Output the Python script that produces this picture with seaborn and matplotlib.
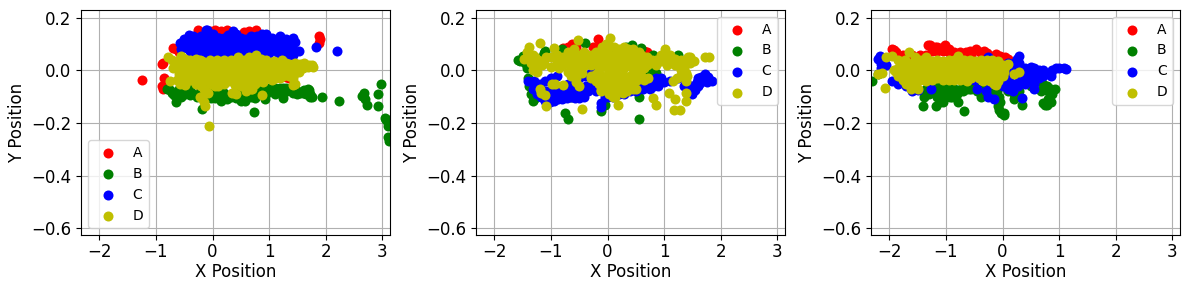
import matplotlib
matplotlib.use("Agg")
import matplotlib.pyplot as plt
import seaborn as sns
import pandas as pd

labels = ["A", "B", "C", "D"]
colors = ["r", "g", "b", "y"]

p1_a_x = [-1.25,-0.9,-0.88,-0.85,-0.9,-0.87,-0.7,-0.65,-0.6,-0.45,-0.35,-0.25,-0.2,-0.05,0.05,0.15,0.25,0.4,0.55,0.65,0.77,0.9,1.88,1.9,1.88,1.3,1.35,-0.15,-0.2,-0.3,-0.55]
p1_a_y = [-0.035,0.025,0.03,-0.03,-0.06,-0.07,0.085,0.08,0.07,0.04,0.07,0.155,0.14,0.15,0.155,0.15,0.155,0.14,0.145,0.15,0.155,0.13,0.13,0.12,0.105,-0.025,-0.03,-0.06,-0.07,0.06,0.03]
p1_b_x = [-0.8,-0.72,-0.68,-0.65,-0.6,-0.52,-0.45,-0.35,-0.28,-0.18,-0.1,-0.02,0.08,0.15,0.25,0.32,0.42,0.5,0.58,0.68,0.75,0.85,0.92,1.0,1.1,1.2,1.25,1.32,1.42,1.5,1.6,1.68,1.72,1.75,1.93,2.23,2.65,2.68,2.7,2.73,2.92,2.92,2.98,3.05,3.07,3.1,3.1,3.12,3.13,0.74,-0.18,0.9,1.25,0.45,-0.6,-0.4,-0.2,0.0,0.2,0.4,0.6,0.8,1.0,1.2,1.4,1.6]
p1_b_y = [-0.07,-0.085,-0.095,-0.12,-0.08,-0.095,-0.085,-0.09,-0.1,-0.1,-0.095,-0.105,-0.09,-0.115,-0.11,-0.1,-0.105,-0.115,-0.115,-0.1,-0.105,-0.09,-0.11,-0.08,-0.09,-0.085,-0.105,-0.08,-0.085,-0.09,-0.08,-0.07,-0.09,-0.1,-0.1,-0.118,-0.098,-0.085,-0.11,-0.13,-0.088,-0.135,-0.05,-0.18,-0.19,-0.21,-0.255,-0.27,-0.19,-0.158,-0.145,-0.07,-0.065,-0.08,-0.07,-0.07,-0.075,-0.08,-0.085,-0.085,-0.09,-0.075,-0.065,-0.065,-0.07,-0.085]
p1_b_more = [(-0.75,-0.075),(-0.55,-0.1),(-0.4,-0.095),(-0.22,-0.085),(-0.05,-0.09),(0.05,-0.105),(0.2,-0.095),(0.35,-0.09),(0.55,-0.1),(0.65,-0.085),(0.82,-0.075),(0.95,-0.09),(1.05,-0.075),(1.15,-0.08),(1.3,-0.065),(1.38,-0.075),(1.45,-0.065),(1.55,-0.085),(1.65,-0.09),(1.7,-0.075),(1.62,-0.075),(1.72,-0.1),(1.1,-0.065)]
p1_c_x = [-0.58,-0.5,-0.42,-0.35,-0.28,-0.2,-0.12,-0.04,0.05,0.12,0.2,0.28,0.36,0.42,0.5,0.6,0.68,0.78,0.88,0.95,1.05,1.2,1.3,1.42,1.45,1.53,1.82,2.2,-0.55,-0.45,-0.35,-0.25,-0.15,-0.05,0.05,0.15,0.25,0.35,0.45,0.55,0.65,0.75,0.85,0.95,1.05,1.15,1.25,1.35,-0.35,-0.2,-0.02,0.1,0.22,0.4,0.55,0.7,0.85,1.0,1.15,1.3,-0.1,0.0,0.38,-0.08,0.1,0.3,0.5,0.7,0.9,1.1,1.25]
p1_c_y = [0.105,0.12,0.135,0.13,0.125,0.13,0.155,0.14,0.11,0.125,0.125,0.135,0.15,0.14,0.125,0.12,0.13,0.13,0.14,0.14,0.125,0.13,0.12,0.125,0.11,0.075,0.09,0.075,0.08,0.085,0.085,0.09,0.075,0.09,0.095,0.09,0.09,0.1,0.095,0.1,0.09,0.1,0.095,0.1,0.09,0.1,0.095,0.08,0.06,0.06,0.06,0.06,0.07,0.07,0.07,0.07,0.065,0.065,0.065,0.05,0.155,0.14,0.12,0.12,0.11,0.115,0.11,0.115,0.115,0.115,0.11]
p1_c_more = [(-0.5,0.1),(-0.4,0.11),(-0.3,0.105),(-0.2,0.105),(-0.1,0.1),(0.0,0.105),(0.1,0.125),(0.2,0.105),(0.3,0.09),(0.42,0.11),(0.6,0.1),(0.8,0.11),(1.0,0.105),(1.2,0.105),(1.38,0.1),(1.4,0.085),(-0.4,0.075),(-0.15,0.06),(0.05,0.075),(0.3,0.065),(0.48,0.075),(0.62,0.07),(0.78,0.075),(0.95,0.08),(1.1,0.08),(1.25,0.07),(1.42,0.06),(-0.08,0.08)]
p1_d_x = [-0.78,-0.72,-0.65,-0.6,-0.55,-0.48,-0.4,-0.3,-0.22,-0.12,-0.02,0.08,0.18,0.28,0.38,0.45,0.55,0.65,0.77,0.88,1.0,1.1,1.22,1.35,1.45,1.55,1.62,1.7,1.75,1.78,-0.7,-0.6,-0.5,-0.4,-0.3,-0.2,-0.1,0.0,0.1,0.2,0.3,0.4,0.5,0.6,0.7,0.8,0.9,1.0,1.1,1.2,1.3,1.4,1.5,1.6,-0.6,-0.5,-0.4,-0.3,-0.2,-0.1,0.05,0.15,0.25,0.35,0.45,0.55,0.65,0.75,0.85,0.95,1.05,1.15,1.25,-0.75,-0.62,-0.48,-0.3,-0.15,-0.02,0.1,0.3,0.4,0.53,0.6,0.75,0.9,1.05,1.42,-0.22,-0.18,-0.15,-0.14,-0.13,-0.08,0.1,0.35,0.6,0.68,0.88,-0.07]
p1_d_y = [0.05,0.04,0.03,0.03,0.055,0.045,0.03,0.03,0.04,0.03,0.025,0.03,0.035,0.03,0.03,0.05,0.04,0.05,0.06,0.035,0.03,0.025,0.04,0.025,0.03,0.025,0.03,0.02,0.02,0.015,0.01,0.015,0.01,0.005,0.01,0.0,0.01,0.005,0.01,0.005,0.01,0.01,0.01,0.01,0.015,0.015,0.015,0.01,0.01,0.015,0.015,0.015,0.01,0.01,-0.015,-0.02,-0.02,-0.015,-0.02,-0.02,-0.02,-0.015,-0.02,-0.015,-0.02,-0.02,-0.015,-0.015,-0.02,-0.02,-0.02,-0.015,-0.02,-0.04,-0.035,-0.055,-0.05,-0.04,-0.05,-0.05,-0.04,-0.055,-0.05,-0.06,-0.05,-0.045,-0.035,-0.055,-0.1,-0.105,-0.12,-0.135,-0.08,-0.085,-0.06,-0.085,-0.08,-0.07,-0.095,-0.212]
p1_d_more = [(-0.6,0.04),(-0.5,0.035),(-0.4,0.04),(-0.3,0.045),(-0.18,0.035),(-0.05,0.04),(0.08,0.04),(0.2,0.04),(0.32,0.04),(0.42,0.04),(0.6,0.04),(0.72,0.045),(0.85,0.045),(0.95,0.04),(1.08,0.035),(1.18,0.03),(1.3,0.03),
(-0.65,0.012),(-0.55,0.0),(-0.45,0.01),(-0.35,0.015),(-0.25,0.015),(-0.15,0.012),(-0.05,0.01),(0.05,0.012),(0.15,0.015),(0.25,0.012),(0.35,0.012),(0.45,0.015),(0.55,0.02),(0.65,0.02),(0.75,0.02),(0.85,0.02),(0.95,0.02),(1.05,0.018),(1.15,0.02),(1.25,0.015),(1.35,0.012),(1.45,0.018),(1.55,0.015),(1.68,0.015),
(-0.58,-0.012),(-0.45,-0.005),(-0.35,-0.005),(-0.25,-0.005),(-0.15,-0.005),(-0.05,-0.005),(0.05,-0.005),(0.15,-0.005),(0.25,-0.005),(0.35,-0.005),(0.45,-0.005),(0.55,-0.005),(0.65,-0.005),(0.75,-0.005),(0.85,-0.005),(0.95,-0.005),(1.05,-0.005),(1.15,-0.005),(1.25,-0.005),(1.35,-0.005),(1.45,-0.01),(1.52,-0.005),
(-0.55,-0.035),(-0.45,-0.04),(-0.38,-0.035),(-0.25,-0.035),(-0.12,-0.03),(0.0,-0.035),(0.12,-0.035),(0.22,-0.035),(0.32,-0.03),(0.45,-0.035),(0.58,-0.035),(0.68,-0.035),(0.82,-0.035),(0.95,-0.03),(1.12,-0.03),(1.2,-0.03),(1.35,-0.02),(1.45,-0.05),(1.42,-0.03),
(-0.58,-0.05),(-0.2,-0.06),(0.2,-0.05),(0.5,-0.06),(0.7,-0.07),(0.05,-0.06),(-0.15,-0.07),(0.78,-0.045),(0.42,-0.09)]

p2_a_x = [-0.17,-0.15,-0.78,-0.7,-0.62,-0.55,0.7,0.65,0.3,-0.25,-0.05]
p2_a_y = [0.118,0.09,0.085,0.09,0.1,0.09,0.07,0.075,0.08,0.09,0.09]
p2_b_x = [-1.58,-1.55,-1.5,-1.45,-1.42,-1.4,-1.38,-1.35,-1.32,-1.3,-1.1,-1.12,-0.95,-0.8,-0.4,0.33,0.43,0.6,-0.75,-0.7,0.56,-0.12,0.55,-0.05,0.8,1.25,-1.15,-0.5,0.15,0.7,0.85,0.78,-0.65]
p2_b_y = [0.04,0.035,0.055,0.03,0.01,-0.03,-0.06,-0.09,-0.115,-0.11,0.075,0.065,0.05,0.08,0.105,0.09,0.095,0.085,-0.16,-0.185,-0.185,-0.155,-0.1,-0.13,0.06,0.06,0.05,0.0,0.08,0.0,-0.01,-0.005,-0.1]
p2_c_x = [-1.4,-1.32,-1.25,-1.18,-1.1,-1.02,-0.95,-0.88,-0.8,-0.72,-0.65,-0.58,-0.5,-0.42,-0.35,-0.28,-0.2,-0.12,-0.05,0.0,0.1,0.2,0.3,0.4,0.5,0.62,0.75,0.82,0.9,1.0,1.1,1.85,1.78,1.75,1.7,1.65,1.6,1.55,1.5,-1.2,-1.1,-1.0,-0.9,-0.8,-0.7,-0.6,-0.5,-0.4,-0.3,-0.2,-0.12,-0.3,-0.2,0.15,0.65,0.88,1.25,1.35,1.45,1.55,1.62,1.68,-1.05,-0.85,-0.65,-0.45,-0.25]
p2_c_y = [-0.04,-0.07,-0.09,-0.1,-0.115,-0.12,-0.115,-0.11,-0.11,-0.105,-0.1,-0.105,-0.105,-0.1,-0.08,-0.06,-0.08,-0.14,-0.1,-0.1,-0.1,-0.09,-0.09,-0.08,-0.08,-0.07,-0.07,-0.06,-0.06,-0.045,-0.04,-0.04,-0.025,-0.045,-0.03,-0.04,-0.06,-0.075,-0.09,-0.05,-0.04,-0.03,-0.02,-0.06,-0.05,-0.04,-0.03,-0.02,-0.01,0.01,-0.125,-0.03,-0.02,-0.04,-0.05,-0.05,-0.03,-0.06,-0.06,-0.06,-0.05,-0.04,-0.08,-0.08,-0.07,-0.07,-0.05]
p2_c_more = [(-1.3,-0.04),(-1.2,-0.07),(-1.1,-0.08),(-1.0,-0.09),(-0.9,-0.08),(-0.75,-0.08),(-0.55,-0.08),(-0.38,-0.06),(-0.1,-0.07),(0.0,-0.07),(0.1,-0.07),(0.55,-0.06),(0.7,-0.05),(0.78,-0.04),(0.85,-0.03),(0.95,-0.03),(1.5,-0.06),(1.58,-0.045),(1.65,-0.025),(1.72,-0.015),(1.6,-0.03)]
p2_d_x = [-1.48,-1.42,-1.38,-1.32,-1.28,-1.22,-1.18,-1.2,-1.12,-0.95,-0.9,-0.82,-0.7,-0.6,-0.52,-0.45,-0.4,-0.3,-0.2,-0.1,-0.02,0.05,0.05,0.12,0.2,0.28,0.36,0.45,0.55,0.65,0.78,0.95,1.02,1.1,1.2,1.3,1.42,1.45,1.52,1.72,1.8,-1.25,-1.15,-1.0,-0.85,-0.7,-0.55,-0.4,-0.25,-0.1,0.0,0.12,0.25,0.4,0.55,0.7,0.85,1.05,1.2,1.35,-0.65,-0.55,-0.3,-0.2,-0.1,0.0,0.1,0.2,0.3,0.4,0.5,0.6,-0.15,-0.05,0.05,0.15,0.25,0.35,0.45,-1.2,-1.18,-1.1,-1.08,-0.98,-0.92,-0.78,-0.5,-0.45,0.18,0.13,0.8,0.86,1.08,1.17,1.2,1.28,1.38,1.38,1.4,1.3,1.15,0.65,-0.3,0.0,0.1,0.35,0.45,-0.9,-0.75,-0.6,-0.45,-0.3,-0.15,0.0,0.15,0.3,0.45,0.6,0.75,0.9,1.1,1.3,-0.85,-0.6,-1.35,-1.3,-0.15,0.0,0.15,0.3,0.45,0.6,-0.12,0.05,0.2,0.35,0.5]
p2_d_y = [0.045,0.07,0.09,0.06,0.05,0.04,0.03,0.105,0.03,0.085,0.06,0.04,0.05,0.08,0.115,0.06,0.04,0.06,0.07,0.09,0.1,0.125,0.09,0.09,0.08,0.07,0.08,0.06,0.07,0.05,0.04,0.06,0.08,0.06,0.045,0.04,0.05,0.05,0.035,0.05,0.052,-0.005,0.02,0.015,0.01,-0.005,-0.01,0.02,0.03,0.04,0.04,0.04,0.04,0.03,0.03,0.02,0.02,0.02,0.02,0.01,-0.02,-0.03,-0.02,-0.015,-0.02,-0.02,-0.015,-0.02,-0.02,-0.02,-0.02,-0.02,-0.05,-0.05,-0.05,-0.05,-0.05,-0.05,-0.05,-0.07,-0.085,-0.095,-0.135,-0.05,-0.05,-0.055,-0.06,-0.145,-0.13,-0.1,-0.105,-0.13,-0.085,-0.15,-0.11,-0.15,-0.085,-0.115,-0.02,-0.02,-0.04,-0.035,-0.03,-0.08,-0.1,-0.08,-0.07,0.035,0.03,0.035,0.05,0.045,0.06,0.065,0.06,0.05,0.05,0.03,0.03,0.04,0.04,0.03,0.015,0.01,0.03,0.02,0.005,0.005,0.005,0.01,0.005,0.0,-0.075,-0.07,-0.075,-0.075,-0.07]
p2_d_more = [(-1.4,0.06),(-1.32,0.03),(-1.25,0.025),(-1.08,0.05),(-1.0,0.05),(-0.88,0.045),(-0.78,0.05),(-0.7,0.07),(-0.6,0.05),(-0.5,0.06),(-0.42,0.07),(-0.3,0.04),(-0.2,0.05),(-0.15,0.06),(-0.05,0.06),(0.12,0.06),(0.22,0.05),(0.3,0.05),(0.42,0.06),(0.5,0.05),(0.6,0.06),(0.7,0.05),(0.85,0.04),(0.95,0.035),(1.05,0.05),(1.15,0.03),(1.25,0.025),(1.35,0.025),(1.45,0.03),
(-1.32,0.0),(-0.8,0.02),(-0.65,0.02),(-0.5,0.02),(-0.3,0.02),(-0.15,0.02),(-0.05,0.02),(0.05,0.02),(0.15,0.02),(0.25,0.02),(0.35,0.02),(0.45,0.02),(0.55,0.02),(0.65,0.01),(-0.55,-0.045),(-0.45,-0.01),(-0.2,-0.04),(-0.08,-0.035),(0.02,-0.035),(0.12,-0.035),(0.22,-0.035),(0.32,-0.035),(0.42,-0.035),(0.52,-0.035),(0.72,-0.03),(-0.12,-0.08),(0.02,-0.09),(0.15,-0.085),(0.28,-0.085),(0.4,-0.06),(1.3,0.0),(1.38,-0.01),(1.22,-0.03),(1.38,-0.04),(0.3,0.09),(0.45,0.08)]

p3_a_x = [-1.95,-1.92,-1.88,-1.75,-1.6,-1.45,-1.32,-1.28,-1.2,-1.15,-1.08,-1.02,-0.95,-0.85,-0.75,-0.65,-0.58,-0.47,-0.4,-0.33,-0.28,-0.12,-0.05,0.05]
p3_a_y = [0.08,0.078,0.07,0.06,0.06,0.06,0.095,0.098,0.09,0.09,0.085,0.095,0.07,0.07,0.07,0.07,0.075,0.08,0.07,0.075,0.065,0.062,0.055,0.05]
p3_a_more = [(-1.25,0.075),(-1.15,0.075),(-1.05,0.075),(-0.95,0.08),(-1.35,0.06),(-0.2,0.055),(0.1,0.045),(-0.55,0.06),(-1.02,0.08)]
p3_b_x = [-2.3,-2.2,-1.35,-1.4,-1.38,-1.3,-1.18,-1.18,-1.1,-1.05,-1.0,-0.98,-0.9,-0.8,-0.78,-0.68,-0.55,-0.42,-0.38,-0.2,-0.1,-0.08,-0.07,-0.03,0.02,0.2,0.2,0.35,0.5,0.68,0.72,0.72,0.75,0.8,0.85,0.87,0.93,-1.25,-1.1,-0.85,-0.7,0.1,0.3,-0.6,-1.0,-0.9,-0.8,-0.95,-0.7,-0.5,-0.3]
p3_b_y = [-0.04,-0.015,-0.07,-0.135,-0.1,-0.09,-0.135,-0.085,-0.12,-0.12,-0.07,-0.08,-0.1,-0.09,-0.12,-0.155,-0.07,-0.07,-0.1,-0.08,-0.1,-0.135,-0.15,-0.16,-0.17,-0.09,-0.11,-0.13,-0.06,-0.08,-0.05,-0.125,-0.13,-0.11,-0.12,-0.09,-0.07,-0.06,-0.06,-0.07,-0.08,-0.08,-0.08,-0.07,-0.1,-0.085,-0.075,-0.06,-0.06,-0.06,-0.07]
p3_b_more = [(-1.3,-0.06),(-1.2,-0.06),(-1.15,-0.1),(-1.0,-0.09),(-0.85,-0.08),(-0.75,-0.08),(-0.65,-0.07),(-0.45,-0.08),(-0.1,-0.08),(-0.05,-0.12),(-0.07,-0.1),(0.02,-0.16),(0.78,-0.06),(0.85,-0.07),(0.8,-0.08),(0.78,-0.13),(-1.1,-0.08),(-0.92,-0.1)]
p3_c_x = [-2.2,-2.17,-2.15,-2.05,-1.95,-1.85,-1.7,-1.6,-1.5,-1.27,-0.45,-0.3,-0.25,-0.22,-0.15,-0.25,-0.1,0.0,0.05,0.1,0.18,0.25,0.3,0.1,0.2,0.3,0.4,0.5,0.55,0.65,0.65,0.72,0.85,0.88,0.95,1.0,1.08,1.12,0.35,0.22,0.12,0.05,0.55,0.4,0.72,0.85,0.0,0.25,0.4,0.55,0.15]
p3_c_y = [0.045,0.055,0.025,0.02,-0.04,-0.05,-0.06,-0.08,-0.075,-0.072,-0.07,-0.08,-0.1,-0.05,-0.11,0.05,-0.05,-0.04,-0.06,-0.07,-0.08,0.045,0.055,0.03,0.03,0.03,0.01,0.015,0.01,0.0,-0.03,-0.02,-0.02,0.0,0.01,0.01,0.01,0.005,-0.105,-0.05,-0.03,0.02,-0.07,-0.05,0.0,-0.01,-0.06,-0.01,-0.02,-0.03,0.0]
p3_c_more = [(0.1,-0.02),(0.3,-0.04),(0.45,-0.03),(0.55,-0.05),(0.28,-0.06),(0.15,-0.05),(0.05,-0.02),(0.5,0.0),(0.6,-0.01),(0.35,0.01),(0.2,0.01),(0.45,0.0),(-0.9,-0.03),(-0.7,-0.03),(-0.5,-0.035),(-2.15,0.01)]
p3_d_x = [-2.2,-2.13,-2.08,-2.05,-1.95,-1.92,-1.85,-1.78,-1.72,-1.65,-1.55,-1.45,-1.35,-1.25,-1.15,-1.05,-0.95,-0.85,-0.78,-0.68,-0.58,-0.48,-0.38,-0.28,-0.18,-0.08,0.1,-1.85,-1.75,-1.65,-1.55,-1.45,-1.35,-1.25,-1.15,-1.05,-0.95,-0.85,-0.75,-0.65,-0.55,-0.45,-0.35,-0.25,-0.15,-0.05,0.05,-1.85,-1.75,-1.65,-1.55,-1.45,-1.35,-1.25,-1.15,-1.05,-0.95,-0.85,-0.75,-0.65,-0.55,-0.45,-0.35,-0.25,-0.15,-0.05,-1.7,-1.62,-1.55,-1.5,-0.15,-0.12,0.2,0.3,-0.35]
p3_d_y = [-0.012,-0.01,-0.068,0.05,0.055,0.0,0.04,0.03,0.04,0.07,0.05,0.04,0.05,0.035,0.04,0.035,0.04,0.04,0.055,0.04,0.04,0.035,0.04,0.04,0.04,0.035,0.025,0.01,0.015,0.01,0.01,0.01,0.015,0.01,0.015,0.01,0.01,0.015,0.01,0.01,0.015,0.01,0.01,0.01,0.01,0.015,0.015,-0.02,-0.02,-0.02,-0.02,-0.015,-0.02,-0.02,-0.015,-0.015,-0.02,-0.02,-0.015,-0.02,-0.02,-0.015,-0.015,-0.02,-0.02,-0.015,-0.05,-0.07,-0.05,-0.07,-0.05,-0.055,-0.012,-0.005,-0.04]
p3_d_more = [(-1.8,0.03),(-1.7,0.025),(-1.6,0.03),(-1.5,0.03),(-1.4,0.03),(-1.3,0.025),(-1.2,0.03),(-1.1,0.03),(-1.0,0.025),(-0.9,0.03),(-0.8,0.03),(-0.7,0.03),(-0.6,0.03),(-0.5,0.03),(-0.4,0.025),(-0.3,0.025),(-0.2,0.03),(-0.1,0.025),(0.0,0.02),
(-1.88,-0.005),(-1.78,-0.005),(-1.68,-0.005),(-1.58,-0.005),(-1.48,-0.005),(-1.38,-0.005),(-1.28,-0.005),(-1.18,-0.005),(-1.08,-0.005),(-0.98,-0.005),(-0.88,-0.005),(-0.78,-0.005),(-0.68,-0.005),(-0.58,-0.005),(-0.48,-0.005),(-0.38,-0.005),(-0.28,-0.005),(-0.18,-0.005),(-0.08,-0.005),(0.02,-0.005),
(-1.75,-0.035),(-1.65,-0.04),(-1.55,-0.035),(-1.45,-0.035),(-1.35,-0.04),(-1.25,-0.035),(-1.15,-0.03),(-1.05,-0.035),(-0.95,-0.035),(-0.85,-0.035),(-0.75,-0.035),(-0.65,-0.035),(-0.55,-0.03),(-0.42,-0.03),(-0.32,-0.035),(-0.22,-0.04),(-0.08,-0.04),(-0.62,-0.04),(0.0,-0.02)]

def merged(xs, ys, extra=()):
    return list(xs) + [p[0] for p in extra], list(ys) + [p[1] for p in extra]

panels = [
    [merged(p1_a_x, p1_a_y), merged(p1_b_x, p1_b_y, p1_b_more), merged(p1_c_x, p1_c_y, p1_c_more), merged(p1_d_x, p1_d_y, p1_d_more)],
    [merged(p2_a_x, p2_a_y), merged(p2_b_x, p2_b_y), merged(p2_c_x, p2_c_y, p2_c_more), merged(p2_d_x, p2_d_y, p2_d_more)],
    [merged(p3_a_x, p3_a_y, p3_a_more), merged(p3_b_x, p3_b_y, p3_b_more), merged(p3_c_x, p3_c_y, p3_c_more), merged(p3_d_x, p3_d_y, p3_d_more)],
]
legend_locs = ["lower left", "upper right", "upper right"]
panel_lefts = [81.3, 476.3, 871.3]

sns.set_style("ticks")
plt.rcParams.update({"font.family": "DejaVu Sans", "xtick.labelsize": 12, "ytick.labelsize": 12,
                     "axes.labelsize": 12, "axes.edgecolor": "black", "text.color": "black",
                     "axes.labelcolor": "black", "xtick.color": "black", "ytick.color": "black",
                     "xtick.major.size": 3.5, "ytick.major.size": 3.5, "xtick.major.pad": 2.5,
                     "xtick.major.width": 0.8, "ytick.major.width": 0.8, "axes.linewidth": 0.8})

W, H = 1189, 290
fig, axes = plt.subplots(1, 3, figsize=(W / 100, H / 100), dpi=100)
for ax, series, loc, left in zip(axes, panels, legend_locs, panel_lefts):
    for (xs, ys), lab, col in zip(series, labels, colors):
        frame = pd.DataFrame({"x": xs, "y": ys})
        sns.scatterplot(data=frame, x="x", y="y", color=col, s=52, linewidth=0, label=lab, ax=ax)
    ax.set_xlim(-2.318, 3.136)
    ax.set_ylim(-0.626, 0.230)
    ax.set_xticks([-2, -1, 0, 1, 2, 3])
    ax.set_yticks([-0.6, -0.4, -0.2, 0.0, 0.2])
    ax.set_xlabel("X Position", labelpad=1.5)
    ax.set_ylabel("Y Position")
    ax.grid(True, color="#b0b0b0", linewidth=0.8)
    ax.set_axisbelow(True)
    ax.legend(loc=loc, fontsize=10)
    ax.set_position([left / W, (H - 235) / H, 308.7 / W, 225 / H])
fig.savefig("out.png", dpi=100)
